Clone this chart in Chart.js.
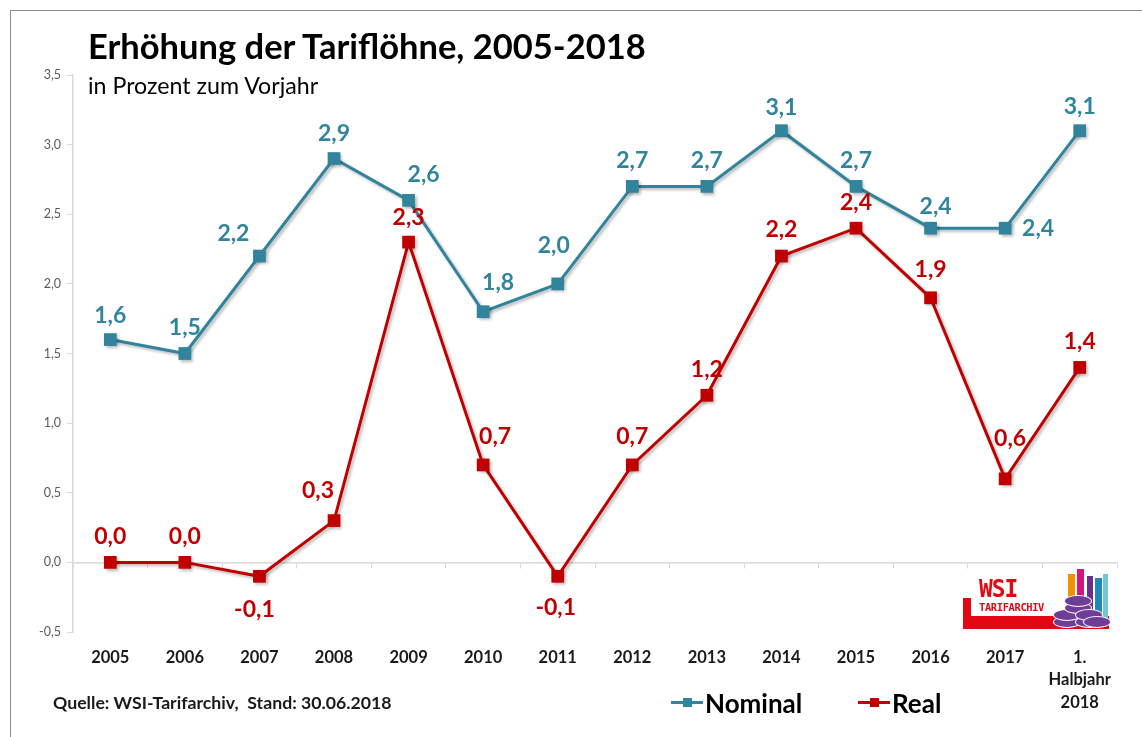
<!DOCTYPE html>
<html>
<head>
<meta charset="utf-8">
<script src="https://cdn.jsdelivr.net/npm/chart.js@4.4.1/dist/chart.umd.min.js"></script>
<style>
  html, body { margin: 0; padding: 0; background: #fff; }
  #wrap { position: relative; width: 1142px; height: 737px; overflow: hidden; font-family: Lato, "Open Sans", sans-serif; }
  #frame { position: absolute; left: 10px; top: 10px; width: 1200px; height: 800px; border: 1px solid #8a8a8a; }
  #chart { position: absolute; left: 0; top: 0; }
  .txt { position: absolute; white-space: nowrap; color: #000; }
  #title { left: 88px; top: 26px; font-size: 34.5px; line-height: 40px; font-weight: 700; }
  #subtitle { left: 88px; top: 72px; font-size: 23.2px; line-height: 27px; }
  #source { left: 53px; top: 692px; font-size: 17.7px; line-height: 22px; font-weight: 700; color: #1a1a1a; }
  .leg { position: absolute; top: 688px; height: 30px; }
  .leg .line { position: absolute; left: 0; top: 13px; width: 32px; height: 3px; }
  .leg .sq { position: absolute; left: 12px; top: 10px; width: 9px; height: 9px; }
  .leg .lab { position: absolute; left: 34px; top: 0; font-size: 26px; line-height: 30px; font-weight: 700; color: #000; }
  /* logo */
  #logo { position: absolute; left: 963px; top: 565px; width: 146px; height: 64px; }
  #logo div { position: absolute; }
  #logo .coin { width: 26px; height: 10px; border-radius: 50%; background: #6f3d97; border: 1px solid #fff; }
</style>
</head>
<body>
<div id="wrap">
  <div id="frame"></div>
  <canvas id="chart" width="1142" height="737"></canvas>
  <div id="title" class="txt">Erhöhung der Tariflöhne, 2005-2018</div>
  <div id="subtitle" class="txt">in Prozent zum Vorjahr</div>
  <div id="source" class="txt">Quelle: WSI-Tarifarchiv,&nbsp; Stand: 30.06.2018</div>
  <div id="legend"></div>
  <div id="logo">
    <div style="left:0;top:33px;width:8px;height:31px;background:#e30613"></div>
    <div style="left:0;top:51px;width:146px;height:13px;background:#e30613"></div>
    <div style="left:16px;top:13px;font:700 24px 'DejaVu Sans Mono',monospace;color:#e30613;line-height:22px;letter-spacing:-1px;transform:scaleX(0.95);transform-origin:left">WSI</div>
    <div style="left:16px;top:37px;font:700 11px 'DejaVu Sans Mono',monospace;color:#e30613;line-height:11px;letter-spacing:-0.4px;transform:scaleX(0.95);transform-origin:left">TARIFARCHIV</div>
    <div style="left:105px;top:9px;width:7px;height:46px;background:#f39200"></div>
    <div style="left:114px;top:4px;width:7px;height:51px;background:#d4157f"></div>
    <div style="left:124px;top:11px;width:6px;height:44px;background:#6f2c8f"></div>
    <div style="left:132px;top:13px;width:7px;height:42px;background:#1d89b8"></div>
    <div style="left:140px;top:9px;width:5px;height:46px;background:#72c7d5"></div>
    <div class="coin" style="left:90px;top:51px"></div>
    <div class="coin" style="left:90px;top:44px"></div>
    <div class="coin" style="left:101px;top:37px"></div>
    <div class="coin" style="left:101px;top:30px"></div>
    <div class="coin" style="left:112px;top:51px"></div>
    <div class="coin" style="left:112px;top:44px"></div>
    <div class="coin" style="left:120px;top:51px"></div>
  </div>
</div>
<script>
// Erhöhung der Tariflöhne 2005-2018 (WSI)
// Librerias: Chart.js

const years = ['2005', '2006', '2007', '2008', '2009', '2010', '2011', '2012', '2013', '2014', '2015', '2016', '2017', ['1.', 'Halbjahr', '2018']];
const nominal = [1.6, 1.5, 2.2, 2.9, 2.6, 1.8, 2.0, 2.7, 2.7, 3.1, 2.7, 2.4, 2.4, 3.1];
const real = [0.0, 0.0, -0.1, 0.3, 2.3, 0.7, -0.1, 0.7, 1.2, 2.2, 2.4, 1.9, 0.6, 1.4];
const yTicks = [-0.5, 0, 0.5, 1, 1.5, 2, 2.5, 3, 3.5];

const colNominal = '#31849b';
const colReal = '#c00000';

// label offsets (px) relative to each point
const offNominal = [[0,-24],[0,-26],[-26,-22],[0,-25],[15,-26],[15,-29],[-4,-38],[0,-26],[0,-26],[0,-23],[0,-26],[5,-22],[33,0],[0,-24]];
const offReal = [[0,-26],[0,-26],[-5,33],[-16,-30],[0,-25],[12,-28],[-2,31],[0,-28],[0,-26],[0,-26],[0,-26],[0,-28],[5,-40],[0,-26]];

function fmt(v){
  return v.toFixed(1).replace('.', ',');
}

//-----LEGEND (html)
function drawLegend(){
  const items = [
    {label: 'Nominal', color: colNominal, left: 671},
    {label: 'Real', color: colReal, left: 858}
  ];
  let html = '';
  items.forEach(it => {
    html += '<div class="leg" style="left:' + it.left + 'px">' +
      '<div class="line" style="background:' + it.color + '"></div>' +
      '<div class="sq" style="background:' + it.color + '"></div>' +
      '<div class="lab">' + it.label + '</div></div>';
  });
  document.getElementById('legend').innerHTML = html;
}
drawLegend();

//-----PLUGINS
const shadowPlugin = {
  id: 'shadow',
  beforeDatasetDraw(chart){
    const ctx = chart.ctx;
    ctx.save();
    ctx.shadowColor = 'rgba(0,0,0,0.28)';
    ctx.shadowBlur = 3;
    ctx.shadowOffsetX = 2;
    ctx.shadowOffsetY = 2;
  },
  afterDatasetDraw(chart){
    chart.ctx.restore();
  }
};

const valueLabels = {
  id: 'valueLabels',
  afterDatasetsDraw(chart){
    const ctx = chart.ctx;
    const offsets = [offNominal, offReal];
    ctx.save();
    ctx.font = '700 23px Lato, "Open Sans", sans-serif';
    ctx.textAlign = 'center';
    ctx.textBaseline = 'middle';
    chart.data.datasets.forEach((ds, d) => {
      const meta = chart.getDatasetMeta(d);
      ctx.fillStyle = ds.borderColor;
      meta.data.forEach((pt, i) => {
        const o = offsets[d][i];
        ctx.fillText(fmt(ds.data[i]), pt.x + o[0], pt.y + o[1]);
      });
    });
    ctx.restore();
  }
};

//-----CHART
const ctx = document.getElementById('chart').getContext('2d');
const chart = new Chart(ctx, {
  type: 'line',
  data: {
    labels: years,
    datasets: [
      {
        label: 'Nominal',
        data: nominal,
        borderColor: colNominal,
        backgroundColor: colNominal,
        borderWidth: 3,
        pointStyle: 'rect',
        pointRadius: 9,
        pointBorderWidth: 0,
        tension: 0,
        order: 1
      },
      {
        label: 'Real',
        data: real,
        borderColor: colReal,
        backgroundColor: colReal,
        borderWidth: 3,
        pointStyle: 'rect',
        pointRadius: 9,
        pointBorderWidth: 0,
        tension: 0,
        order: 0
      }
    ]
  },
  plugins: [shadowPlugin, valueLabels],
  options: {
    responsive: false,
    animation: false,
    layout: { padding: { left: 0, top: 75, right: 25, bottom: 0 } },
    plugins: { legend: { display: false }, tooltip: { enabled: false } },
    scales: {
      x: {
        type: 'category',
        offset: true,
        border: { display: false },
        grid: { display: false, drawTicks: false },
        ticks: {
          padding: 14,
          maxRotation: 0,
          autoSkip: false,
          color: '#1a1a1a',
          font: { family: 'Lato, "Open Sans", sans-serif', size: 16.5, weight: '700', lineHeight: 1.38 }
        },
        afterFit(scale){ scale.height = 105; }
      },
      x2: {
        type: 'category',
        axis: 'x',
        position: { y: 0 },
        offset: true,
        border: { display: true, color: '#d9d9d9', width: 1.5 },
        grid: { offset: true, drawOnChartArea: false, drawTicks: true, tickLength: 5, color: '#d9d9d9' },
        ticks: { display: false }
      },
      y: {
        min: -0.5,
        max: 3.5,
        afterBuildTicks(scale){ scale.ticks = yTicks.map(v => ({value: v})); },
        border: { display: true, color: '#d9d9d9', width: 1.5 },
        grid: { drawOnChartArea: false, drawTicks: true, tickLength: 6, color: '#d9d9d9' },
        ticks: {
          padding: 6,
          color: '#595959',
          font: { family: 'Lato, "Open Sans", sans-serif', size: 12.5 },
          callback: v => fmt(v)
        },
        afterFit(scale){ scale.width = 73; }
      }
    }
  }
});
</script>
</body>
</html>
